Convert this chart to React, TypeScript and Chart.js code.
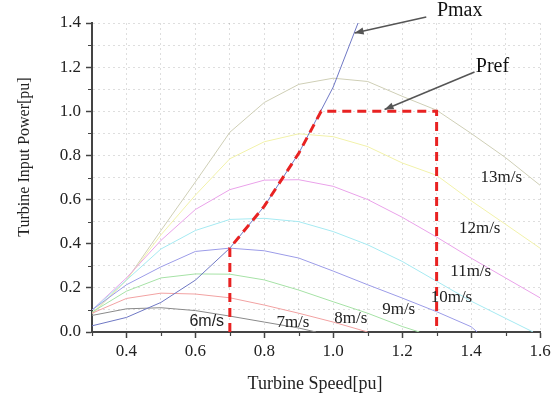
import { useEffect, useRef } from 'react';
import { Chart, registerables } from 'chart.js';

Chart.register(...registerables);

// turbine speed grid [pu]
const speed = [0.3, 0.4, 0.5, 0.6, 0.7, 0.8, 0.9, 1.0, 1.1, 1.2, 1.3, 1.4, 1.5, 1.6];

// power curves per wind speed [pu] (values at speed[] points), with speed where power reaches 0
const p6 = [0.075, 0.105, 0.11, 0.097, 0.072, 0.045, 0.018];
const p6End = 0.95;
const p7 = [0.085, 0.152, 0.176, 0.172, 0.155, 0.122, 0.085, 0.045];
const p7End = 1.1;
const p8 = [0.09, 0.185, 0.245, 0.263, 0.262, 0.236, 0.19, 0.137, 0.085, 0.025];
const p8End = 1.25;
const p9 = [0.1, 0.214, 0.295, 0.365, 0.38, 0.368, 0.335, 0.276, 0.214, 0.154, 0.092, 0.024];
const p9End = 1.418;
const p10 = [0.1, 0.235, 0.376, 0.46, 0.51, 0.515, 0.5, 0.455, 0.395, 0.32, 0.23, 0.14, 0.062];
const p10End = 1.58;
const p11 = [0.1, 0.245, 0.415, 0.555, 0.645, 0.688, 0.69, 0.66, 0.6, 0.52, 0.43, 0.335, 0.245, 0.155];
const p12 = [0.085, 0.235, 0.44, 0.62, 0.785, 0.862, 0.898, 0.885, 0.84, 0.766, 0.71, 0.595, 0.488, 0.38];
const p13 = [0.08, 0.235, 0.46, 0.68, 0.905, 1.04, 1.122, 1.15, 1.135, 1.068, 1.005, 0.9, 0.79, 0.665];

// maximum power curve
const pmaxSpeed = [0.3, 0.4, 0.5, 0.6, 0.7, 0.8, 0.9, 1.0, 1.072];
const pmaxPower = [0.028, 0.066, 0.134, 0.235, 0.38, 0.57, 0.81, 1.11, 1.4];

// reference power path
const prefSpeed = [0.7, 0.7, 0.8, 0.9, 0.965, 1.3, 1.3];
const prefPower = [0, 0.38, 0.57, 0.81, 1.0, 1.0, 0];

// wind speed labels and where they sit (data units)
const windLabels = ['6m/s', '7m/s', '8m/s', '9m/s', '10m/s', '11m/s', '12m/s', '13m/s'];
const windLabelSpeed = [0.633, 0.883, 1.051, 1.19, 1.343, 1.399, 1.425, 1.488];
const windLabelPower = [0.045, 0.045, 0.063, 0.104, 0.154, 0.276, 0.471, 0.702];

// callouts: text position, arrow start, arrow tip (data units)
const calloutText = ['Pmax', 'Pref'];
const calloutTextPos = [[1.367, 1.455], [1.462, 1.2]];
const calloutFrom = [[1.27, 1.427], [1.41, 1.178]];
const calloutTo = [[1.062, 1.355], [1.149, 1.008]];

const colors = ['#8a8a8a', '#f2a2a2', '#a6e2a6', '#9c9ce8', '#a6eaf2', '#eaa2ea', '#f2f2aa', '#cfcfb6'];

function curve(vals: number[], end?: number) {
  const pts = vals.map((v, i) => ({ x: speed[i], y: v }));
  if (end !== undefined) pts.push({ x: end, y: 0 });
  return pts;
}

const isMajor = (v: number) => Math.round(v * 10) % 2 === 0;

const annotPlugin = {
  id: 'annot',
  afterDraw(chart: any) {
    const { ctx, scales, chartArea } = chart;
    const xs = scales.x;
    const ys = scales.y;
    ctx.save();
    // minor ticks
    ctx.strokeStyle = '#444';
    ctx.lineWidth = 1.2;
    ctx.beginPath();
    xs.ticks.forEach((t: any) => {
      if (!isMajor(t.value)) {
        const px = Math.round(xs.getPixelForValue(t.value)) + 0.5;
        ctx.moveTo(px, chartArea.bottom);
        ctx.lineTo(px, chartArea.bottom + 4);
      }
    });
    ys.ticks.forEach((t: any) => {
      if (!isMajor(t.value)) {
        const py = Math.round(ys.getPixelForValue(t.value)) + 0.5;
        ctx.moveTo(chartArea.left - 4, py);
        ctx.lineTo(chartArea.left + 1, py);
      }
    });
    ctx.stroke();

    // wind labels
    ctx.fillStyle = '#222';
    ctx.textAlign = 'center';
    ctx.textBaseline = 'middle';
    windLabels.forEach((lab, i) => {
      ctx.font = i === 0 ? '16px "Liberation Sans", Arial, sans-serif' : '17px "Liberation Serif", "Times New Roman", serif';
      ctx.fillText(lab, xs.getPixelForValue(windLabelSpeed[i]), ys.getPixelForValue(windLabelPower[i]));
    });

    // callouts
    calloutText.forEach((lab, i) => {
      ctx.font = '20px "Liberation Serif", "Times New Roman", serif';
      ctx.fillStyle = '#111';
      ctx.fillText(lab, xs.getPixelForValue(calloutTextPos[i][0]), ys.getPixelForValue(calloutTextPos[i][1]));
      const x1 = xs.getPixelForValue(calloutFrom[i][0]);
      const y1 = ys.getPixelForValue(calloutFrom[i][1]);
      const x2 = xs.getPixelForValue(calloutTo[i][0]);
      const y2 = ys.getPixelForValue(calloutTo[i][1]);
      ctx.strokeStyle = '#555';
      ctx.fillStyle = '#555';
      ctx.lineWidth = 1.5;
      ctx.beginPath();
      ctx.moveTo(x1, y1);
      ctx.lineTo(x2, y2);
      ctx.stroke();
      const ang = Math.atan2(y2 - y1, x2 - x1);
      const L = 9, W = 3.5;
      ctx.beginPath();
      ctx.moveTo(x2, y2);
      ctx.lineTo(x2 - L * Math.cos(ang) + W * Math.sin(ang), y2 - L * Math.sin(ang) - W * Math.cos(ang));
      ctx.lineTo(x2 - L * Math.cos(ang) - W * Math.sin(ang), y2 - L * Math.sin(ang) + W * Math.cos(ang));
      ctx.closePath();
      ctx.fill();
    });

    // axis titles
    ctx.fillStyle = '#222';
    ctx.font = '18px "Liberation Serif", "Times New Roman", serif';
    ctx.fillText('Turbine Speed[pu]', 315, 384);
    ctx.translate(25, 157);
    ctx.rotate(-Math.PI / 2);
    ctx.font = '16px "Liberation Serif", "Times New Roman", serif';
    ctx.fillText('Turbine Input Power[pu]', 0, 0);
    ctx.restore();
  },
};

export default function App() {
  const ref = useRef<HTMLCanvasElement>(null);
  useEffect(() => {
    if (!ref.current) return;
    const line = (data: any[], color: string, extra: any = {}) => ({
      data,
      borderColor: color,
      backgroundColor: color,
      borderWidth: 1,
      pointRadius: 0,
      tension: 0,
      fill: false,
      ...extra,
    });
    const tickFont = { family: '"Liberation Serif", "Times New Roman", serif', size: 17 };
    const chart = new Chart(ref.current, {
      type: 'line',
      data: {
        datasets: [
          line(prefSpeed.map((s, i) => ({ x: s, y: prefPower[i] })), '#e82222', { borderWidth: 3, borderDash: [9, 6] }),
          line(pmaxSpeed.map((s, i) => ({ x: s, y: pmaxPower[i] })), '#6f78c4'),
          line(curve(p6, p6End), colors[0]),
          line(curve(p7, p7End), colors[1]),
          line(curve(p8, p8End), colors[2]),
          line(curve(p9, p9End), colors[3]),
          line(curve(p10, p10End), colors[4]),
          line(curve(p11), colors[5]),
          line(curve(p12), colors[6]),
          line(curve(p13), colors[7]),
        ],
      },
      options: {
        animation: false,
        responsive: false,
        devicePixelRatio: 1,
        layout: { padding: { top: 23, right: 18, left: 0, bottom: 0 } },
        plugins: { legend: { display: false }, tooltip: { enabled: false } },
        scales: {
          x: {
            type: 'linear',
            min: 0.3,
            max: 1.6,
            afterFit: (s: any) => { s.height = 64; },
            ticks: {
              stepSize: 0.1,
              autoSkip: false,
              maxRotation: 0,
              padding: 3,
              color: '#222',
              font: tickFont,
              callback: (v: any) => (isMajor(Number(v)) ? (Math.round(Number(v) * 10) / 10).toFixed(1) : ''),
            },
            grid: {
              color: 'rgba(0,0,0,0.13)',
              lineWidth: 1,
              tickLength: 6,
              tickWidth: 1.5,
              tickColor: (c: any) => (isMajor(c.tick.value) ? '#444' : 'rgba(0,0,0,0)'),
            },
            border: { display: true, color: '#444', width: 2, dash: [2, 3] },
          },
          y: {
            type: 'linear',
            min: 0,
            max: 1.4,
            afterFit: (s: any) => { s.width = 92; },
            ticks: {
              stepSize: 0.1,
              autoSkip: false,
              padding: 5,
              color: '#222',
              font: tickFont,
              callback: (v: any) => (isMajor(Number(v)) ? (Math.round(Number(v) * 10) / 10).toFixed(1) : ''),
            },
            grid: {
              color: 'rgba(0,0,0,0.13)',
              lineWidth: 1,
              tickLength: 6,
              tickWidth: 1.5,
              tickColor: (c: any) => (isMajor(c.tick.value) ? '#444' : 'rgba(0,0,0,0)'),
            },
            border: { display: true, color: '#444', width: 2, dash: [2, 3] },
          },
        },
      } as any,
      plugins: [annotPlugin],
    });
    return () => chart.destroy();
  }, []);
  return (
    <div style={{ position: 'fixed', left: 0, top: 0, width: 558, height: 396, background: '#fff' }}>
      <canvas ref={ref} width={558} height={396} />
    </div>
  );
}
